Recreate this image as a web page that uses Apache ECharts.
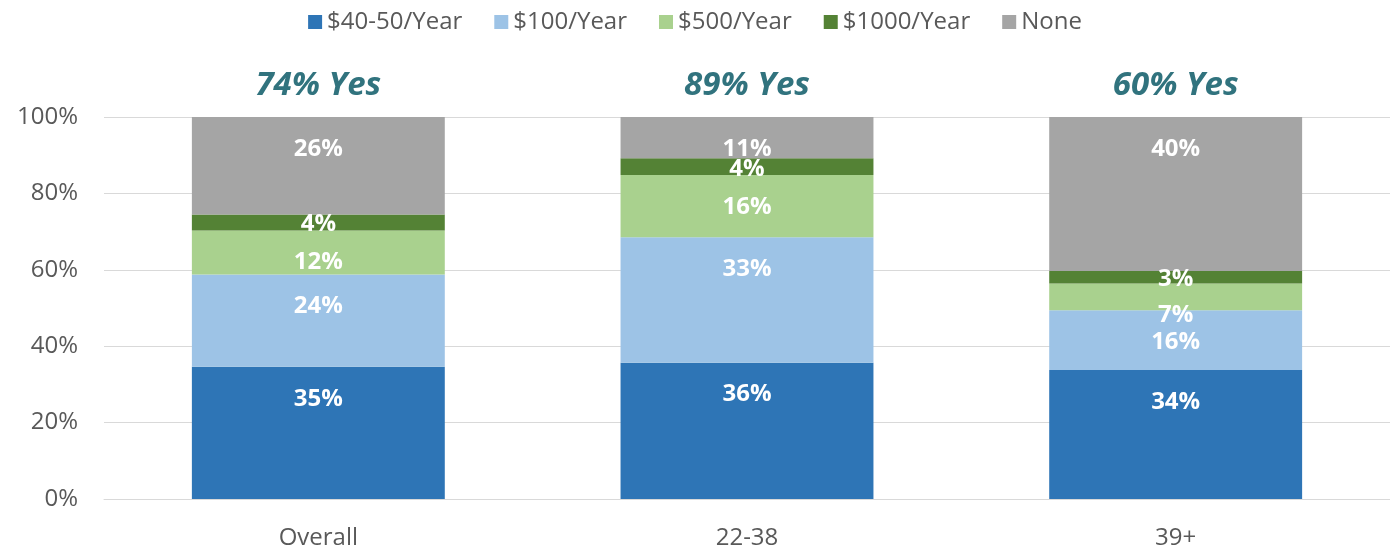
<!DOCTYPE html>
<html>
<head>
<meta charset="utf-8">
<script src="https://cdn.jsdelivr.net/npm/echarts@6/dist/echarts.min.js"></script>
<style>html,body{margin:0;padding:0;background:#fff}#c{width:1390px;height:550px}</style>
</head>
<body>
<div id="c"></div>
<script>
const categories = ['Overall', '22-38', '39+'];
const seriesNames = ['$40-50/Year', '$100/Year', '$500/Year', '$1000/Year', 'None'];
const tier40_50 = [34.6, 35.7, 33.8];
const tier100 = [24.2, 32.8, 15.6];
const tier500 = [11.5, 16.3, 7.0];
const tier1000 = [4.2, 4.4, 3.3];
const none = [25.5, 10.8, 40.3];
const yesTitles = ['74% Yes', '89% Yes', '60% Yes'];
const yTicks = [0, 20, 40, 60, 80, 100];

const colors = ['#2E75B6', '#9DC3E6', '#A9D18E', '#548235', '#A5A5A5'];
const FONT = 'Open Sans';
const values = [tier40_50, tier100, tier500, tier1000, none];

const series = values.map((arr, i) => ({
  name: seriesNames[i],
  type: 'bar',
  stack: 'total',
  barWidth: '59%',
  data: arr,
  itemStyle: { color: colors[i] },
  label: {
    show: true,
    position: i === 3 ? 'inside' : 'insideTop',
    distance: 20,
    offset: i === 3 ? [0, 2] : [0, 0],
    color: '#ffffff',
    fontFamily: FONT,
    fontWeight: 'bold',
    fontSize: 24,
    formatter: p => Math.round(p.value) + '%'
  },
  emphasis: { disabled: true }
}));

series.push({
  name: 'yes',
  type: 'bar',
  stack: 'total',
  barWidth: '59%',
  data: categories.map(() => 0),
  itemStyle: { color: 'transparent' },
  label: {
    show: true,
    position: 'top',
    distance: 15,
    color: '#31737E',
    fontFamily: FONT,
    fontWeight: 'bold',
    fontStyle: 'italic',
    fontSize: 33,
    formatter: p => yesTitles[p.dataIndex]
  },
  emphasis: { disabled: true }
});

const chart = echarts.init(document.getElementById('c'));
chart.setOption({
  animation: false,
  legend: {
    data: seriesNames,
    top: 5,
    left: 'center',
    itemWidth: 14,
    itemHeight: 14,
    itemGap: 32,
    icon: 'rect',
    textStyle: { fontFamily: FONT, fontSize: 24, color: '#595959', padding: [0, 0, 0, 0] }
  },
  grid: { left: 104, right: 0, top: 117, bottom: 51 },
  xAxis: {
    type: 'category',
    data: categories,
    axisLine: { show: true, lineStyle: { color: '#d9d9d9', width: 1 } },
    axisTick: { show: false },
    axisLabel: { fontFamily: FONT, fontSize: 24, color: '#595959', margin: 27 }
  },
  yAxis: {
    type: 'value',
    min: yTicks[0],
    max: yTicks[yTicks.length - 1],
    interval: 20,
    axisLine: { show: false },
    axisTick: { show: false },
    splitLine: { lineStyle: { color: '#d9d9d9', width: 1 } },
    axisLabel: { fontFamily: FONT, fontSize: 24, color: '#595959', margin: 26, formatter: v => v + '%' }
  },
  series: series
});
</script>
</body>
</html>
